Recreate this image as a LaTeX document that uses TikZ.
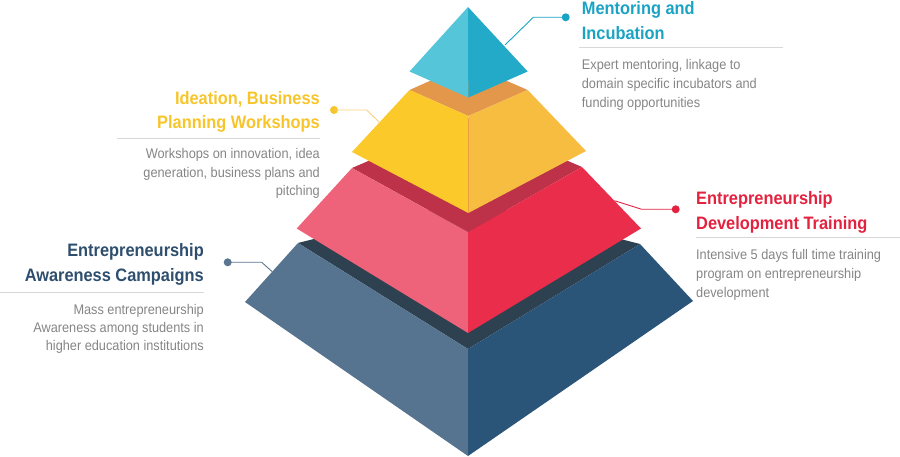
\documentclass[tikz,border=0pt]{standalone}
\usepackage{fontspec}
\setmainfont{Liberation Sans}[FakeStretch=0.91]
\definecolor{tealL}{HTML}{55C6D9}
\definecolor{tealR}{HTML}{22AAC8}
\definecolor{orangeT}{HTML}{E3974A}
\definecolor{yelL}{HTML}{FCC92A}
\definecolor{yelR}{HTML}{F6BD41}
\definecolor{redT}{HTML}{BD3249}
\definecolor{pinkL}{HTML}{EF637A}
\definecolor{pinkR}{HTML}{EA2D4A}
\definecolor{blueT}{HTML}{2E4150}
\definecolor{blueL}{HTML}{56738F}
\definecolor{blueR}{HTML}{2B5479}
\definecolor{tealH}{HTML}{1BA3C4}
\definecolor{yelH}{HTML}{F7C52A}
\definecolor{yelLine}{HTML}{F5D27A}
\definecolor{redH}{HTML}{E3223F}
\definecolor{blueH}{HTML}{2E4E6E}
\definecolor{blueLine}{HTML}{5A7590}
\definecolor{bodygray}{HTML}{858585}
\definecolor{sepgray}{HTML}{D8D8D8}
\begin{document}
\begin{tikzpicture}[x=1pt,y=-1pt,
  hd/.style={inner sep=0pt, font=\fontsize{18}{18}\selectfont\bfseries},
  bd/.style={inner sep=0pt, font=\fontsize{14}{14}\selectfont, text=bodygray},
  sepline/.style={draw=sepgray, line width=1pt},
  conn/.style={line width=0.9pt},
  dotnode/.style={circle, inner sep=0pt, minimum size=8pt}]
\useasboundingbox (0,0) rectangle (900,457);

% ---------- bottom tier (blue) ----------
\fill[blueT] (298,243) -- (468,200) -- (640,244) -- (468,349) -- cycle;
\fill[blueL] (298,243) -- (245,302) -- (468,456) -- (468,349) -- cycle;
\fill[blueR] (468,349) -- (468,456) -- (693,301) -- (640,244) -- cycle;

% ---------- second tier (pink) ----------
\fill[redT] (352,168) -- (468,118) -- (582,167) -- (468,232) -- cycle;
\fill[pinkL] (352,168) -- (296.7,228.5) -- (468,333) -- (468,232) -- cycle;
\fill[pinkR] (468,232) -- (468,333) -- (641,228.5) -- (582,167) -- cycle;

% ---------- third tier (yellow) ----------
\fill[orangeT] (409.5,90) -- (468,64) -- (527.7,90) -- (468.3,116) -- cycle;
\fill[yelL] (409.5,90) -- (352,152) -- (468.3,213) -- (468.3,116) -- cycle;
\fill[yelR] (468.3,116) -- (468.3,213) -- (586,151) -- (527.7,90) -- cycle;

% ---------- top (teal) ----------
\fill[tealL] (468,7) -- (409.5,71.5) -- (468.3,97.5) -- cycle;
\fill[tealR] (468,7) -- (468.3,97.5) -- (527.7,71.5) -- cycle;

% ---------- connectors ----------
\node[dotnode, fill=tealH] (tdot) at (565.7,17.3) {};
\coordinate (telb) at (533.3,17.3);
\coordinate (tedge) at (505,45);
\draw[conn, tealH] (tdot.center) -- (telb) -- (tedge);

\node[dotnode, fill=yelH] (ydot) at (334,110) {};
\coordinate (yelb) at (366.7,110);
\coordinate (yedge) at (379.5,122.5);
\draw[conn, yelLine] (ydot.center) -- (yelb) -- (yedge);

\node[dotnode, fill=redH] (rdot) at (675.7,209.3) {};
\coordinate (relb) at (641.7,209.3);
\coordinate (redge) at (614.6,200.7);
\draw[conn, redH] (rdot.center) -- (relb) -- (redge);

\node[dotnode, fill=blueLine] (bdot) at (227.7,262.3) {};
\coordinate (belb) at (261.7,262.3);
\coordinate (bedge) at (272.2,271.7);
\draw[conn, blueLine] (bdot.center) -- (belb) -- (bedge);

% ---------- separators ----------
\draw[sepline] (579,47.3) -- (783,47.3);
\draw[sepline] (116.7,138.3) -- (320,138.3);
\draw[sepline] (696,237.3) -- (900,237.3);
\draw[sepline] (0,292.7) -- (204,292.7);

% ---------- texts: Mentoring ----------
\node[hd, text=tealH, anchor=base west] (t1) at (581.7,15) {Mentoring and};
\node[hd, text=tealH, anchor=base west] (t2) at (581.7,39.3) {Incubation};
\node[bd, anchor=base west] (tb1) at (581.7,69.3) {Expert mentoring, linkage to};
\node[bd, anchor=base west] (tb2) at (581.7,88.3) {domain specific incubators and};
\node[bd, anchor=base west] (tb3) at (581.7,107.3) {funding opportunities};

% ---------- texts: Ideation ----------
\node[hd, text=yelH, anchor=base east] (y1) at (320,105) {Ideation, Business};
\node[hd, text=yelH, anchor=base east] (y2) at (320,128.3) {Planning Workshops};
\node[bd, anchor=base east] (yb1) at (320,159) {Workshops on innovation, idea};
\node[bd, anchor=base east] (yb2) at (320,177.5) {generation, business plans and};
\node[bd, anchor=base east] (yb3) at (320,196) {pitching};

% ---------- texts: Development ----------
\node[hd, text=redH, anchor=base west] (r1) at (696,205) {Entrepreneurship};
\node[hd, text=redH, anchor=base west] (r2) at (696,229.3) {Development Training};
\node[bd, anchor=base west] (rb1) at (696,260) {Intensive 5 days full time training};
\node[bd, anchor=base west] (rb2) at (696,278.8) {program on entrepreneurship};
\node[bd, anchor=base west] (rb3) at (696,297.7) {development};

% ---------- texts: Awareness ----------
\node[hd, text=blueH, anchor=base east] (b1) at (204,256.7) {Entrepreneurship};
\node[hd, text=blueH, anchor=base east] (b2) at (204,281.7) {Awareness Campaigns};
\node[bd, anchor=base east] (bb1) at (204,314) {Mass entrepreneurship};
\node[bd, anchor=base east] (bb2) at (204,332.7) {Awareness among students in};
\node[bd, anchor=base east] (bb3) at (204,350.7) {higher education institutions};
\end{tikzpicture}
\end{document}
